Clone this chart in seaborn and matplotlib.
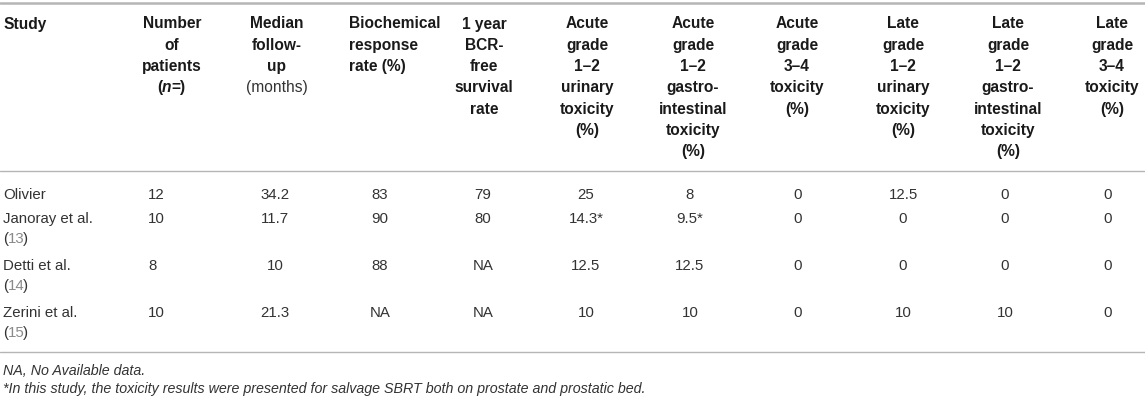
import matplotlib.pyplot as plt
import seaborn as sns

sns.set_style("white")
plt.rcParams['font.family'] = ['Liberation Sans', 'DejaVu Sans']

# table content
studies = ["Olivier", "Janoray et al.", "Detti et al.", "Zerini et al."]
refs = [None, "13", "14", "15"]
n_patients = ["12", "10", "8", "10"]
median_fu = ["34.2", "11.7", "10", "21.3"]
bio_resp = ["83", "90", "88", "NA"]
bcr_free = ["79", "80", "NA", "NA"]
acute_gu = ["25", "14.3*", "12.5", "10"]
acute_gi = ["8", "9.5*", "12.5", "10"]
acute_34 = ["0", "0", "0", "0"]
late_gu = ["12.5", "0", "0", "10"]
late_gi = ["0", "0", "0", "10"]
late_34 = ["0", "0", "0", "0"]

headers = [
    ["Study"],
    ["Number", "of", "patients", None],
    ["Median", "follow-", "up", "(months)"],
    ["Biochemical", "response", "rate (%)"],
    ["1 year", "BCR-", "free", "survival", "rate"],
    ["Acute", "grade", "1\u20132", "urinary", "toxicity", "(%)"],
    ["Acute", "grade", "1\u20132", "gastro-", "intestinal", "toxicity", "(%)"],
    ["Acute", "grade", "3\u20134", "toxicity", "(%)"],
    ["Late", "grade", "1\u20132", "urinary", "toxicity", "(%)"],
    ["Late", "grade", "1\u20132", "gastro-", "intestinal", "toxicity", "(%)"],
    ["Late", "grade", "3\u20134", "toxicity", "(%)"],
]
footnotes = ["NA, No Available data.",
             "*In this study, the toxicity results were presented for salvage SBRT both on prostate and prostatic bed."]

columns = [n_patients, median_fu, bio_resp, bcr_free, acute_gu, acute_gi,
           acute_34, late_gu, late_gi, late_34]

# layout (pixels)
head_x = [3, 172, 277, 349, 484, 587, 693, 797, 903, 1008, 1112]
head_ha = ["left", "center", "center", "left"] + ["center"] * 7
data_x = [148, 275, 380, 483, 586, 690, 798, 903, 1005, 1108]
data_ha = ["left"] + ["center"] * 9
row_y = [195, 219, 266, 313]
line_h = 21.3
ref_gap = 20.5

fig = plt.figure(figsize=(11.45, 4.02), dpi=100)
ax = fig.add_axes([0, 0, 1, 1])
ax.set_xlim(0, 1145)
ax.set_ylim(402, 0)
ax.axis("off")

dark = "#1a1a1a"
body = "#333333"
rule = "#b5b5b5"

ax.axhline(4, color=rule, lw=1.8)
ax.axhline(172, color=rule, lw=1.0)
ax.axhline(353, color=rule, lw=1.0)

hfs = 11.2
dfs = 10.8

for j, lines in enumerate(headers):
    for k, s in enumerate(lines):
        y = 24 + k * line_h
        if s is None:
            # (n=) with italic n
            t1 = ax.text(head_x[j] - 15, y, "(", fontsize=hfs, weight="bold",
                         color=dark, va="center", ha="left")
            t2 = ax.annotate("n", xy=(1, 0), xycoords=t1, va="bottom", ha="left",
                             fontsize=hfs, weight="bold", style="italic", color=dark)
            ax.annotate("=)", xy=(1, 0), xycoords=t2, va="bottom", ha="left",
                        fontsize=hfs, weight="bold", color=dark)
            continue
        w = "normal" if s == "(months)" else "bold"
        c = body if s == "(months)" else dark
        ax.text(head_x[j], y, s, fontsize=hfs, weight=w, color=c,
                va="center", ha=head_ha[j])

for i, name in enumerate(studies):
    y = row_y[i]
    ax.text(3, y, name, fontsize=dfs, color=body, va="center", ha="left")
    if refs[i]:
        t1 = ax.text(3, y + ref_gap, "(", fontsize=dfs, color=body, va="center", ha="left")
        t2 = ax.annotate(refs[i], xy=(1, 0), xycoords=t1, va="bottom", ha="left",
                         fontsize=dfs, color="#8a8a8a")
        ax.annotate(")", xy=(1, 0), xycoords=t2, xytext=(-1.5, 0),
                    textcoords="offset pixels", va="bottom", ha="left",
                    fontsize=dfs, color=body)
    for j, col in enumerate(columns):
        ax.text(data_x[j], y, col[i], fontsize=dfs, color=body,
                va="center", ha=data_ha[j])

ax.text(3, 371, footnotes[0], fontsize=10.3, style="italic", color=body,
        va="center", ha="left")
ax.text(3, 389, footnotes[1], fontsize=10.3, style="italic", color=body,
        va="center", ha="left")

fig.savefig("out.png", dpi=100)
